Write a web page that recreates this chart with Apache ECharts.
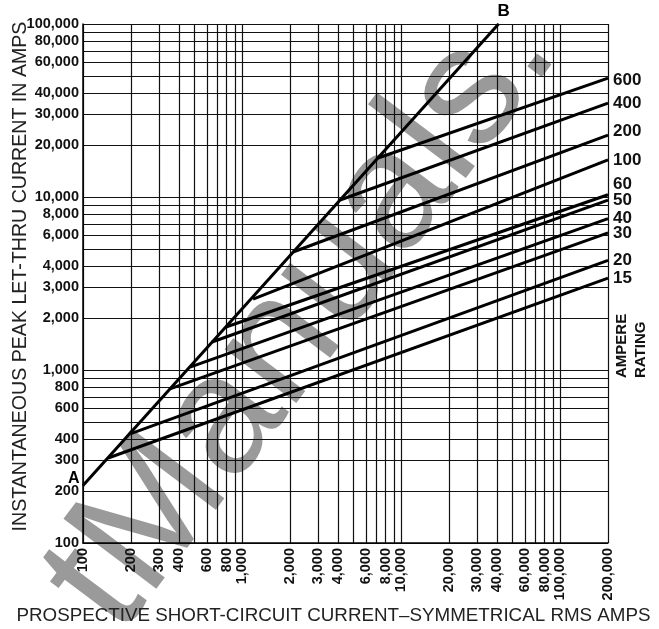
<!DOCTYPE html>
<html><head><meta charset="utf-8">
<script src="https://cdn.jsdelivr.net/npm/echarts@6/dist/echarts.min.js"></script>
<style>html,body{margin:0;padding:0;background:#fff}#c{width:659px;height:629px}</style>
</head><body><div id="c"></div>
<script>
// ---- data ----
const xGrid = [100,200,300,400,500,600,700,800,900,1000,2000,3000,4000,5000,6000,7000,8000,9000,10000,20000,30000,40000,50000,60000,70000,80000,90000,100000,200000];
const xLabels = [100,200,300,400,600,800,1000,2000,3000,4000,6000,8000,10000,20000,30000,40000,60000,80000,100000,200000];
const yGrid = [100,200,300,400,500,600,700,800,900,1000,2000,3000,4000,5000,6000,7000,8000,9000,10000,20000,30000,40000,50000,60000,70000,80000,90000,100000];
const yLabels = [100,200,300,400,600,800,1000,2000,3000,4000,6000,8000,10000,20000,30000,40000,60000,80000,100000];
const abLine = [[100,215],[41000,100000]];
const ratings = ['15','20','30','40','50','60','100','200','400','600'];
const startX = [144,198,352,471,648,793,1173,2093,4135,7165];
const startY = [310,427,777,1040,1452,1772,2572,4810,9610,16800];
const endX = 200000;
const endY = [3400,4300,6200,7500,9600,10300,16400,22800,34900,48700];

// ---- style ----
const FONT_B = "'Liberation Sans',Arial,Helvetica,sans-serif";
const FONT = "'Liberation Sans',Arial,Helvetica,sans-serif";
const labelNudge = {'60':-10,'200':-4,'600':2};
const fmt = v => Number(v).toLocaleString('en-US');

const chart = echarts.init(document.getElementById('c'));

const fuseSeries = ratings.map((r,i)=>({
  type:'line', name:r, animation:false, silent:true, z:3,
  data:[[startX[i],startY[i]],[endX,endY[i]]],
  showSymbol:false, symbol:'none',
  lineStyle:{color:'#000',width:3},
  endLabel:{show:true, formatter:r, distance:5, offset:[0,labelNudge[r]||0],
    color:'#111', fontSize:17, fontWeight:'bold', fontFamily:FONT_B}
}));

const abSeries = {
  type:'line', name:'AB', animation:false, silent:true, z:3,
  showSymbol:true, symbol:'circle', symbolSize:1, itemStyle:{color:'#000'},
  lineStyle:{color:'#000',width:3},
  data:[
    {value:abLine[0], label:{show:true, formatter:'A', position:'left', distance:3, offset:[0,-7],
      color:'#000', fontSize:16, fontWeight:'bold', fontFamily:FONT}},
    {value:abLine[1], label:{show:true, formatter:'B', position:'top', distance:4, offset:[5,0],
      color:'#000', fontSize:17, fontWeight:'bold', fontFamily:FONT}}
  ]
};

const axisCommon = {
  type:'log', logBase:10,
  axisLine:{show:true, lineStyle:{color:'#000',width:1.5}},
  splitLine:{show:true, lineStyle:{color:'#111',width:1.2}},
  minorTick:{show:false}, minorSplitLine:{show:false},
  nameMoveOverlap:false
};

chart.setOption({
  backgroundColor:'#fff',
  animation:false,
  grid:{left:83, right:51, top:24, bottom:86, containLabel:false, outerBoundsMode:'none'},
  xAxis:Object.assign({}, axisCommon, {
    min:100, max:200000,
    axisTick:{show:false, customValues:xGrid},
    axisLabel:{customValues:xLabels, formatter:fmt, rotate:90, margin:5, showMinLabel:true, showMaxLabel:true,
      fontSize:14.5, fontWeight:'bold', fontFamily:FONT_B, color:'#111'},
    name:'PROSPECTIVE SHORT-CIRCUIT CURRENT\u2013SYMMETRICAL RMS AMPS',
    nameLocation:'middle', nameGap:63,
    nameTextStyle:{fontSize:18.8, fontFamily:FONT, color:'#222', padding:[0,24,0,0]}
  }),
  yAxis:Object.assign({}, axisCommon, {
    min:100, max:100000,
    axisTick:{show:false, customValues:yGrid},
    axisLabel:{customValues:yLabels, formatter:fmt, margin:4, showMinLabel:true, showMaxLabel:true,
      fontSize:14.5, fontWeight:'bold', fontFamily:FONT_B, color:'#111'},
    name:'INSTANTANEOUS PEAK LET-THRU CURRENT IN AMPS',
    nameLocation:'middle', nameGap:52,
    nameTextStyle:{fontSize:19.6, fontFamily:FONT, color:'#222', padding:[0,0,0,14]}
  }),
  graphic:[
    {type:'text', z:-1, x:150, y:660, rotation:53*Math.PI/180,
      style:{text:'tManuals.', fill:'#9a9a9a', font:"169px 'Liberation Sans',Arial,sans-serif",
        textAlign:'left', textVerticalAlign:'bottom'}},
    {type:'text', x:621.5, y:378, rotation:Math.PI/2,
      style:{text:'AMPERE', fill:'#111', font:"bold 15px "+FONT_B, textAlign:'left', textVerticalAlign:'middle'}},
    {type:'text', x:640.5, y:378, rotation:Math.PI/2,
      style:{text:'RATING', fill:'#111', font:"bold 15px "+FONT_B, textAlign:'left', textVerticalAlign:'middle'}}
  ],
  series:[abSeries].concat(fuseSeries)
});
</script></body></html>
